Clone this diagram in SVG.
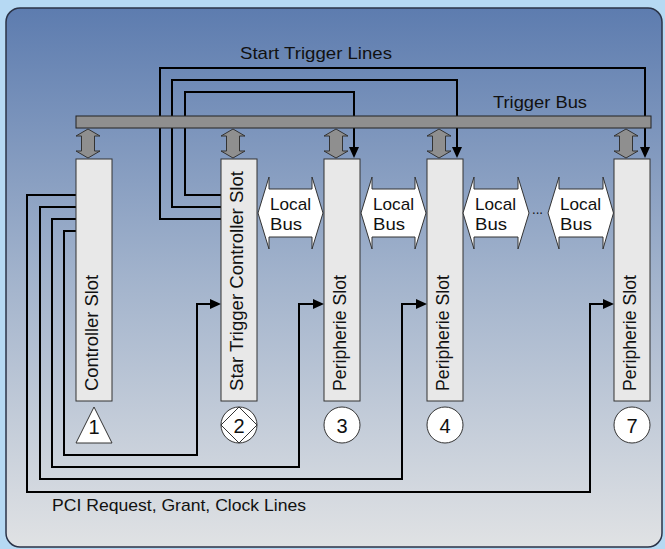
<svg xmlns="http://www.w3.org/2000/svg" width="665" height="549" viewBox="0 0 665 549">
<defs>
<linearGradient id="bg" x1="0" y1="0" x2="0" y2="1">
<stop offset="0" stop-color="#5d7caf"/>
<stop offset="0.5" stop-color="#a2b3cc"/>
<stop offset="1" stop-color="#e0e2e4"/>
</linearGradient>
<marker id="ah" markerUnits="userSpaceOnUse" viewBox="0 0 11 10" markerWidth="11" markerHeight="10" refX="8" refY="5" orient="auto">
<path d="M0,0 L11,5 L0,10 z" fill="#000"/>
</marker>
<style>
.slot{fill:#e8e8e8;stroke:#333;stroke-width:1}
.ln{fill:none;stroke:#000;stroke-width:2;marker-end:url(#ah)}
.bus{fill:#8f8f8f;stroke:#222;stroke-width:1}
.dbl{fill:#8f8f8f;stroke:#333;stroke-width:1}
.lb{fill:#fff;stroke:#333;stroke-width:1}
.mk{fill:#fff;stroke:#333;stroke-width:1}
.t{font-family:"Liberation Sans",Arial,sans-serif;fill:#111}
.sl{font-size:18px}
.lbt{font-size:17px}
.num{font-size:20px;text-anchor:middle}
.cap{font-size:17px}
</style>
</defs>
<rect x="0" y="0" width="665" height="549" fill="#b6d9f3"/>
<rect x="6" y="8" width="656" height="539" rx="14" fill="url(#bg)" stroke="#2b3347" stroke-width="1.5"/>

<g id="connectors">
<path class="ln" d="M221,195 H185 V92 H354 V155"/>
<path class="ln" d="M221,207 H172 V80 H457 V155"/>
<path class="ln" d="M221,219 H160 V68 H645 V155"/>
<path class="ln" d="M76,195 H27 V492 H590 V304 H611"/>
<path class="ln" d="M76,207 H40 V479 H402 V304 H424"/>
<path class="ln" d="M76,219 H52 V467 H299 V304 H321"/>
<path class="ln" d="M76,231 H64 V455 H197 V304 H218"/>
</g>

<g id="trigger-bus">
<rect class="bus" x="76" y="116" width="575" height="12"/>
<text class="t cap" x="493" y="108" textLength="94" lengthAdjust="spacingAndGlyphs">Trigger Bus</text>
</g>
<text class="t cap" x="240" y="59" textLength="152" lengthAdjust="spacingAndGlyphs">Start Trigger Lines</text>
<text class="t cap" x="52" y="511" textLength="254" lengthAdjust="spacingAndGlyphs">PCI Request, Grant, Clock Lines</text>

<g id="bus-arrows">
<polygon class="dbl" points="88,129 100,136 94.5,136 94.5,151 100,151 88,158 76,151 81.5,151 81.5,136 76,136"/>
<polygon class="dbl" points="233,129 245,136 239.5,136 239.5,151 245,151 233,158 221,151 226.5,151 226.5,136 221,136"/>
<polygon class="dbl" points="336,129 348,136 342.5,136 342.5,151 348,151 336,158 324,151 329.5,151 329.5,136 324,136"/>
<polygon class="dbl" points="439,129 451,136 445.5,136 445.5,151 451,151 439,158 427,151 432.5,151 432.5,136 427,136"/>
<polygon class="dbl" points="626,129 638,136 632.5,136 632.5,151 638,151 626,158 614,151 619.5,151 619.5,136 614,136"/>
</g>

<g id="slot1">
<rect class="slot" x="76" y="159" width="36" height="242"/>
<text class="t sl" transform="translate(98,391) rotate(-90)" textLength="116" lengthAdjust="spacingAndGlyphs">Controller Slot</text>
<polygon class="mk" points="94,407 112,443 76,443"/>
<text class="t num" x="94" y="434">1</text>
</g>
<g id="slot2">
<rect class="slot" x="221" y="159" width="36" height="242"/>
<text class="t sl" transform="translate(243,391) rotate(-90)" textLength="220" lengthAdjust="spacingAndGlyphs">Star Trigger Controller Slot</text>
<circle class="mk" cx="239" cy="425" r="18"/>
<polygon class="mk" points="239,407 257,425 239,443 221,425"/>
<text class="t num" x="239" y="433">2</text>
</g>
<g id="slot3">
<rect class="slot" x="324" y="159" width="36" height="242"/>
<text class="t sl" transform="translate(346,391) rotate(-90)" textLength="116" lengthAdjust="spacingAndGlyphs">Peripherie Slot</text>
<circle class="mk" cx="342" cy="425" r="18"/>
<text class="t num" x="342" y="433">3</text>
</g>
<g id="slot4">
<rect class="slot" x="427" y="159" width="36" height="242"/>
<text class="t sl" transform="translate(449,391) rotate(-90)" textLength="116" lengthAdjust="spacingAndGlyphs">Peripherie Slot</text>
<circle class="mk" cx="445" cy="425" r="18"/>
<text class="t num" x="445" y="433">4</text>
</g>
<g id="slot7">
<rect class="slot" x="614" y="159" width="36" height="242"/>
<text class="t sl" transform="translate(636,391) rotate(-90)" textLength="116" lengthAdjust="spacingAndGlyphs">Peripherie Slot</text>
<circle class="mk" cx="632" cy="425" r="18"/>
<text class="t num" x="632" y="433">7</text>
</g>

<g id="local-bus-1">
<polygon class="lb" points="258,213 269,177 269,189 312,189 312,177 323,213 312,249 312,237 269,237 269,249"/>
<text class="t lbt" x="270" y="210" textLength="41" lengthAdjust="spacingAndGlyphs">Local</text>
<text class="t lbt" x="270" y="230" textLength="32" lengthAdjust="spacingAndGlyphs">Bus</text>
</g>
<g id="local-bus-2">
<polygon class="lb" points="361,213 372,177 372,189 415,189 415,177 426,213 415,249 415,237 372,237 372,249"/>
<text class="t lbt" x="373" y="210" textLength="41" lengthAdjust="spacingAndGlyphs">Local</text>
<text class="t lbt" x="373" y="230" textLength="32" lengthAdjust="spacingAndGlyphs">Bus</text>
</g>
<g id="local-bus-3">
<polygon class="lb" points="463,213 474,177 474,189 518,189 518,177 529,213 518,249 518,237 474,237 474,249"/>
<text class="t lbt" x="475" y="210" textLength="41" lengthAdjust="spacingAndGlyphs">Local</text>
<text class="t lbt" x="475" y="230" textLength="32" lengthAdjust="spacingAndGlyphs">Bus</text>
</g>
<text class="t" x="532" y="214" font-size="14" textLength="11" lengthAdjust="spacingAndGlyphs">...</text>
<g id="local-bus-4">
<polygon class="lb" points="548,213 559,177 559,189 603,189 603,177 613.5,213 603,249 603,237 559,237 559,249"/>
<text class="t lbt" x="560" y="210" textLength="41" lengthAdjust="spacingAndGlyphs">Local</text>
<text class="t lbt" x="560" y="230" textLength="32" lengthAdjust="spacingAndGlyphs">Bus</text>
</g>
</svg>
